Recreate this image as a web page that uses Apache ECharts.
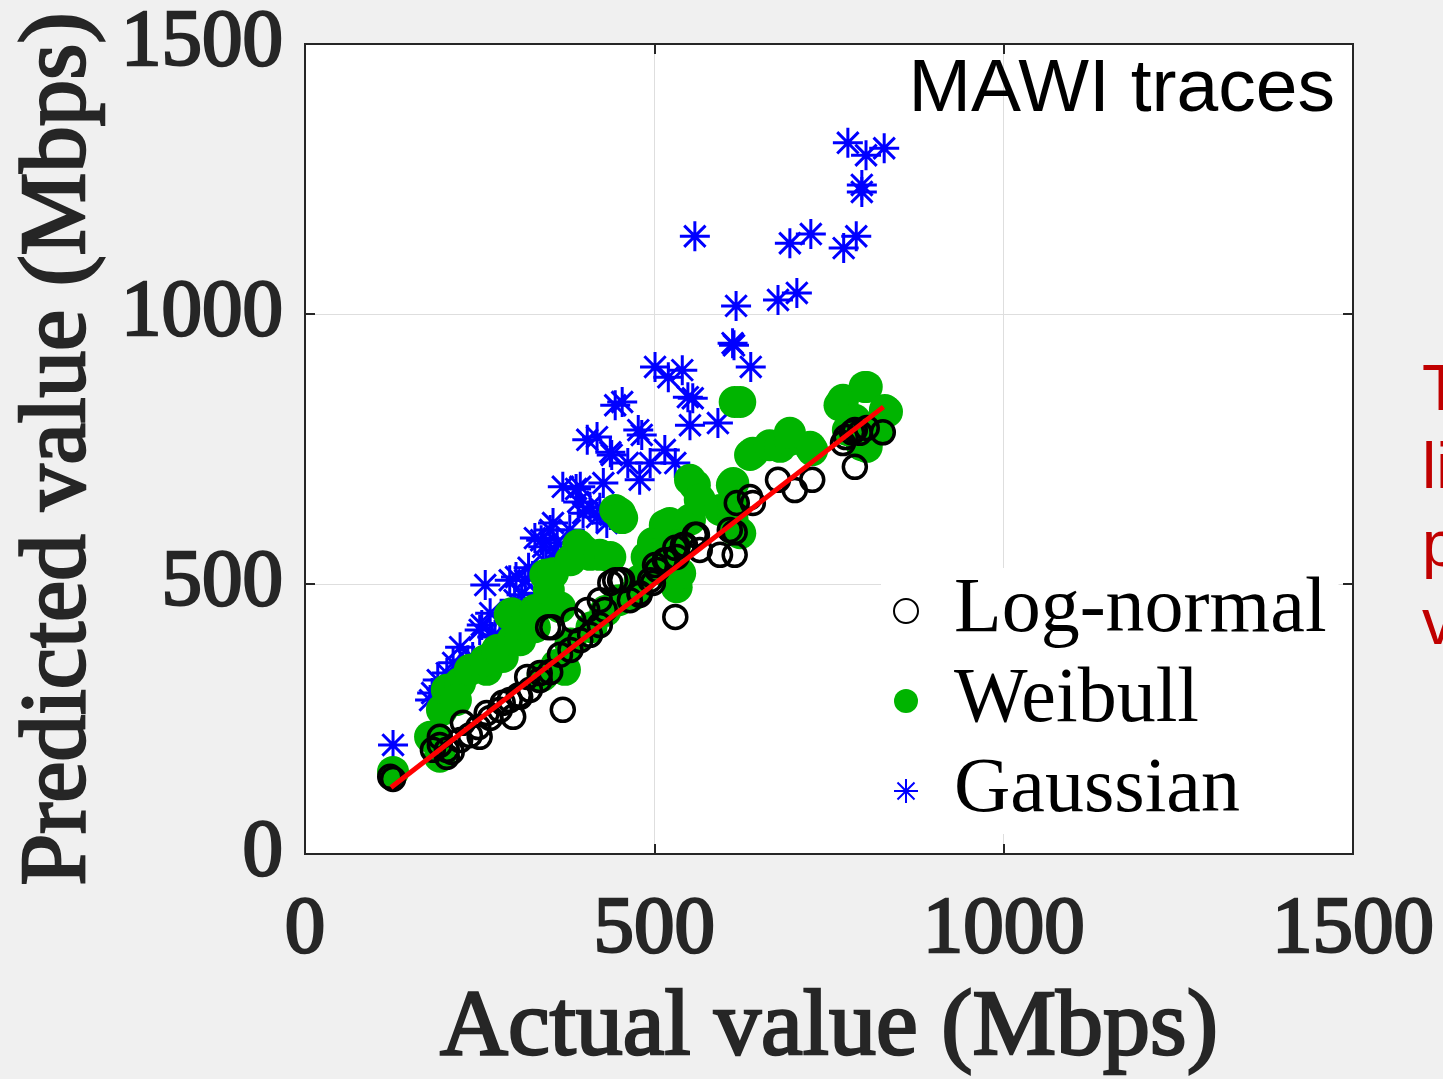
<!DOCTYPE html>
<html>
<head>
<meta charset="utf-8">
<script src="https://cdn.jsdelivr.net/npm/echarts@6/dist/echarts.min.js"></script>
<style>
html,body{margin:0;padding:0;background:#f0f0f0;}
#chart{width:1443px;height:1079px;}
</style>
</head>
<body>
<div id="chart"></div>
<script>
// ---- Data (Actual value, Predicted value) in Mbps ----
const seriesNames = ['Log-normal', 'Weibull', 'Gaussian'];
const axisTicks = [0, 500, 1000, 1500];

const logNormal = [
  [126,139],[122,143],[183,193],[193,202],[193,217],[203,193],[203,180],[210,189],[222,211],[226,243],
  [236,220],[248,235],[250,217],[260,261],[265,252],[279,267],[283,280],[293,285],[298,254],[306,294],
  [308,291],[318,328],[322,304],[336,322],[336,335],[348,420],[351,337],[354,420],[365,369],[369,267],
  [380,378],[384,433],[394,396],[404,452],[408,406],[422,424],[422,470],[429,452],[437,502],[444,507],
  [451,507],[454,507],[465,470],[479,480],[479,483],[494,507],[498,502],[501,535],[504,526],[515,544],
  [518,544],[530,567],[530,439],[532,550],[541,572],[544,572],[558,591],[561,591],[565,563],[594,554],
  [608,600],[615,554],[615,596],[618,650],[641,650],[677,693],[701,674],[726,693],[637,661],[770,761],
  [774,772],[783,781],[787,785],[787,717],[794,780],[804,789],[827,781]
];

const weibull = [
  [126,152],[188,211],[193,180],[179,217],[196,267],[203,304],[222,317],[216,285],[236,341],[260,341],
  [258,359],[275,378],[283,365],[293,443],[296,446],[297,396],[308,396],[315,424],[329,420],[329,452],
  [344,517],[346,517],[349,489],[355,520],[365,457],[372,341],[380,544],[391,572],[398,563],[408,554],
  [422,554],[437,550],[444,637],[451,631],[454,622],[449,470],[479,507],[489,550],[498,576],[501,554],
  [515,609],[522,613],[530,572],[532,494],[537,520],[551,619],[551,693],[558,683],[565,656],[594,637],
  [613,687],[613,650],[611,683],[623,594],[615,600],[612,619],[615,837],[623,837],[637,739],[641,743],
  [665,757],[680,754],[694,767],[694,780],[723,754],[726,748],[765,831],[770,841],[777,785],[787,804],
  [799,791],[801,865],[804,865],[797,757],[804,754],[820,785],[830,822],[833,819],
  [340,330],[360,350],[380,390],[410,420],[430,450],[470,480],[520,520]
];

const gaussian = [
  [126,202],
  [777,1317],[803,1294],[829,1307],[797,1239],[797,1226],
  [558,1144],[694,1131],[724,1148],[771,1122],[789,1144],
  [617,1015],[677,1026],[704,1039],[612,946],[614,942],[638,902],
  [501,902],[520,883],[540,896],[548,846],[555,844],[551,794],[591,798],
  [444,831],[454,837],[477,785],[482,776],[404,767],[418,772],[437,744],[439,739],[462,724],[479,693],
  [494,724],[515,748],[530,724],
  [369,680],[394,680],[427,687],[391,652],[408,643],[398,631],[418,624],[432,613],[355,613],[379,600],
  [361,576],[358,563],
  [258,498],[293,507],[315,507],[329,585],[341,569],[332,483],[253,424],[272,406],[222,383],[240,365],
  [190,322],[179,285],[203,335],[265,446],
  [338,581],[351,600],[302,513],[388,676],[422,641],[437,628],
  [250,415],[268,402],[279,396],[233,359],[212,354],[182,298],[300,470],[310,480],[320,530],[345,540]
];

const refLine = [[123,123],[828,828]];

// ---- Chart ----
const serif = 'Liberation Serif, Times New Roman, serif';
const axColor = '#262626';
const asterisk = 'path://M0,-10L0,10M-10,0L10,0M-7.1,-7.1L7.1,7.1M-7.1,7.1L7.1,-7.1';

const chart = echarts.init(document.getElementById('chart'), null, {renderer: 'canvas'});

const labelStyle = {fontFamily: serif, fontWeight: 'normal', fontSize: 81, color: axColor,
                    textBorderColor: axColor, textBorderWidth: 2.5,
                    showMinLabel: true, showMaxLabel: true, formatter: v => String(v)};
const tickStyle = {show: true, inside: true, length: 10, lineStyle: {color: axColor, width: 2}};
const lineStyleAxis = {show: true, onZero: false, lineStyle: {color: axColor, width: 2}};

function mainAxis(extra) {
  return Object.assign({
    type: 'value', min: axisTicks[0], max: axisTicks[axisTicks.length - 1], interval: 500,
    axisLine: lineStyleAxis,
    axisTick: tickStyle,
    splitLine: {show: true, lineStyle: {color: '#dedede', width: 1}}
  }, extra);
}
function mirrorAxis(extra) {
  return Object.assign({
    type: 'value', min: axisTicks[0], max: axisTicks[axisTicks.length - 1], interval: 500,
    axisLine: lineStyleAxis,
    axisTick: tickStyle,
    splitLine: {show: false}, axisLabel: {show: false}
  }, extra);
}

chart.setOption({
  backgroundColor: '#f0f0f0',
  animation: false,
  title: {
    text: 'MAWI traces', right: 103, top: 48,
    textStyle: {fontFamily: 'Liberation Sans, Arial, sans-serif', fontSize: 75, fontWeight: 'normal', color: '#000'}
  },
  grid: {left: 305, top: 44, width: 1048, height: 810, show: true, backgroundColor: '#ffffff',
         borderColor: axColor, borderWidth: 2, containLabel: false, outerBoundsMode: 'none'},
  xAxis: [
    mainAxis({position: 'bottom', name: 'Actual value (Mbps)', nameLocation: 'middle', nameGap: 128,
      nameTextStyle: {fontFamily: serif, fontWeight: 'normal', fontSize: 94, color: axColor,
                      textBorderColor: axColor, textBorderWidth: 2.5},
      axisLabel: Object.assign({margin: 36}, labelStyle)}),
    mirrorAxis({position: 'top'})
  ],
  yAxis: [
    mainAxis({position: 'left', name: 'Predicted value (Mbps)', nameLocation: 'middle', nameGap: 199, nameRotate: 90,
      nameTextStyle: {fontFamily: serif, fontWeight: 'normal', fontSize: 93, color: axColor,
                      textBorderColor: axColor, textBorderWidth: 2.5},
      axisLabel: Object.assign({margin: 22}, labelStyle)}),
    mirrorAxis({position: 'right'})
  ],
  legend: {
    orient: 'vertical', left: 881, top: 568, padding: [3, 12, 3, 12],
    backgroundColor: '#ffffff', borderWidth: 0,
    itemWidth: 86, itemHeight: 24, itemGap: 10,
    textStyle: {fontFamily: serif, fontSize: 78, color: '#000', lineHeight: 80},
    data: seriesNames, z: 20, selectedMode: false
  },
  graphic: [{
    type: 'text', left: 1422, top: 353, z: 30,
    style: {text: 'The red\nline marks\nperfect\nvalues', fontFamily: 'Liberation Sans, Arial, sans-serif',
            fontSize: 64, lineHeight: 78, fill: '#c00000'}
  }],
  series: [
    {name: 'Gaussian', type: 'scatter', data: gaussian, symbol: asterisk, symbolSize: 30, z: 2,
     itemStyle: {color: 'rgba(0,0,0,0)', borderColor: '#0000ff', borderWidth: 3, opacity: 1}},
    {name: 'Weibull', type: 'scatter', data: weibull, symbol: 'circle', symbolSize: 32, z: 3,
     itemStyle: {color: '#00b400', opacity: 1}},
    {name: 'Log-normal', type: 'scatter', data: logNormal, symbol: 'circle', symbolSize: 23, z: 4,
     itemStyle: {color: 'rgba(0,0,0,0)', borderColor: '#000000', borderWidth: 3.5, opacity: 1}},
    {name: 'ref', type: 'line', data: refLine, symbol: 'none', z: 5, silent: true,
     lineStyle: {color: '#ff0000', width: 5}}
  ]
});
</script>
</body>
</html>
